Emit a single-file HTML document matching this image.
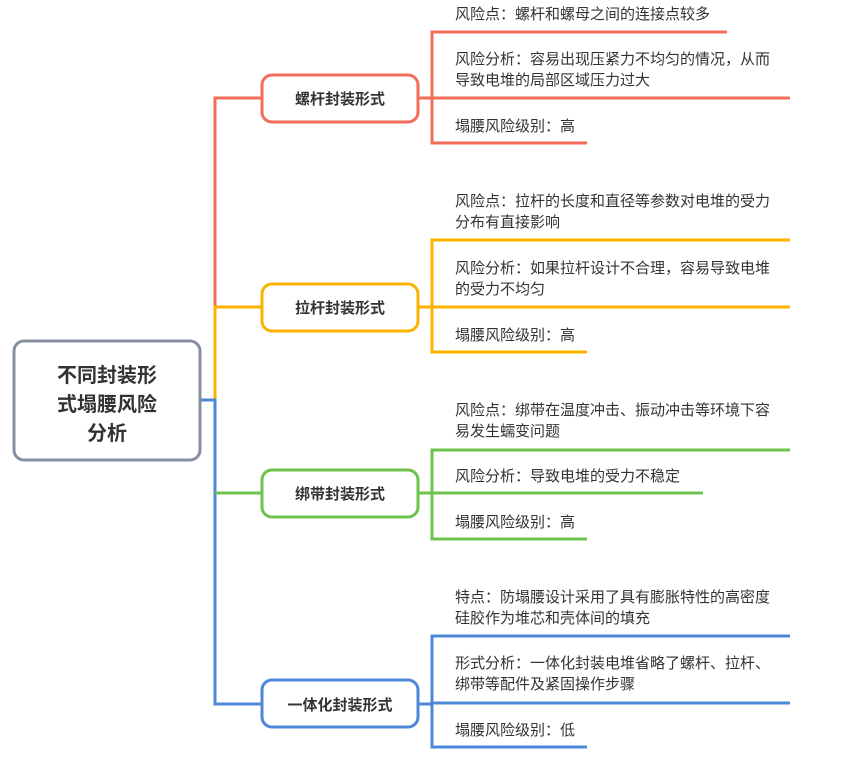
<!DOCTYPE html>
<html><head><meta charset="utf-8"><style>
body{margin:0;background:#fff}
svg text{font-family:"Liberation Sans","Noto Sans CJK SC",sans-serif;fill:#333}
.l{font-size:15px}
.b{font-size:15px;font-weight:bold;text-anchor:middle}
.r{font-size:20px;font-weight:bold;text-anchor:middle}
</style></head><body>
<svg width="844" height="759" viewBox="0 0 844 759" xmlns="http://www.w3.org/2000/svg">
<g fill="none" stroke-width="3">
<path d="M262 98H215V307" stroke="#f46d5b"/>
<path d="M262 307H215V400" stroke="#fbb300"/>
<path d="M201 400H215V704H262" stroke="#4d88d8"/>
<path d="M215 493H262" stroke="#6cc24a"/>
<rect x="262" y="75" width="156" height="47" rx="10" stroke="#f46d5b"/>
<path d="M418 98H432M727 32H432V143H587M432 98H790" stroke="#f46d5b"/>
<rect x="262" y="284" width="156" height="47" rx="10" stroke="#fbb300"/>
<path d="M418 307H432M790 240H432V352H587M432 307H790" stroke="#fbb300"/>
<rect x="262" y="470" width="156" height="47" rx="10" stroke="#6cc24a"/>
<path d="M418 493H432M790 450H432V539H587M432 493H703" stroke="#6cc24a"/>
<rect x="262" y="680" width="156" height="47" rx="10" stroke="#4d88d8"/>
<path d="M418 704H432M790 636H432V747H587M432 703H790" stroke="#4d88d8"/>
<rect x="14" y="341" width="186" height="119" rx="10" stroke="#858fa0"/>
</g>
<text class="r" x="107" y="382">不同封装形</text>
<text class="r" x="107" y="411">式塌腰风险</text>
<text class="r" x="107" y="440">分析</text>
<text class="b" x="340" y="104">螺杆封装形式</text>
<text class="b" x="340" y="313">拉杆封装形式</text>
<text class="b" x="340" y="499">绑带封装形式</text>
<text class="b" x="340" y="710">一体化封装形式</text>
<text class="l" x="455" y="19">风险点：螺杆和螺母之间的连接点较多</text>
<text class="l" x="455" y="64">风险分析：容易出现压紧力不均匀的情况，从而</text>
<text class="l" x="455" y="85">导致电堆的局部区域压力过大</text>
<text class="l" x="455" y="131">塌腰风险级别：高</text>
<text class="l" x="455" y="206">风险点：拉杆的长度和直径等参数对电堆的受力</text>
<text class="l" x="455" y="227">分布有直接影响</text>
<text class="l" x="455" y="273">风险分析：如果拉杆设计不合理，容易导致电堆</text>
<text class="l" x="455" y="294">的受力不均匀</text>
<text class="l" x="455" y="340">塌腰风险级别：高</text>
<text class="l" x="455" y="415">风险点：绑带在温度冲击、振动冲击等环境下容</text>
<text class="l" x="455" y="436">易发生蠕变问题</text>
<text class="l" x="455" y="481">风险分析：导致电堆的受力不稳定</text>
<text class="l" x="455" y="527">塌腰风险级别：高</text>
<text class="l" x="455" y="602">特点：防塌腰设计采用了具有膨胀特性的高密度</text>
<text class="l" x="455" y="623">硅胶作为堆芯和壳体间的填充</text>
<text class="l" x="455" y="668">形式分析：一体化封装电堆省略了螺杆、拉杆、</text>
<text class="l" x="455" y="689">绑带等配件及紧固操作步骤</text>
<text class="l" x="455" y="735">塌腰风险级别：低</text>
</svg>
</body></html>
